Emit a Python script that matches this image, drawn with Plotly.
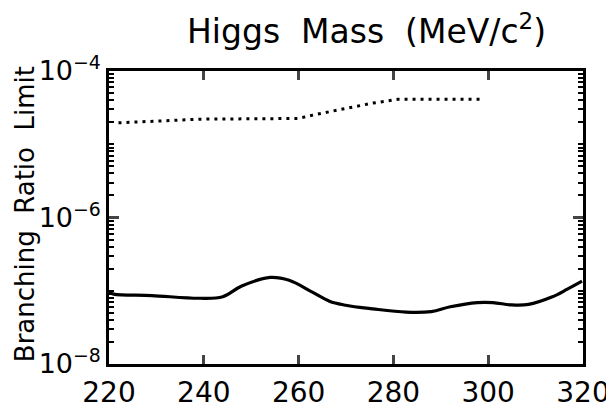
import plotly.graph_objects as go

# Solid curve (lower limit)
mass_solid = [220, 221, 229, 239, 244, 248, 254, 258, 263, 266.5, 269.6, 275.7, 282.7,
              288, 292, 297.7, 301, 305, 308.5, 313.4, 316.7, 319.8]
limit_solid = [9.6e-8, 9.0e-8, 8.6e-8, 7.9e-8, 8.3e-8, 1.16e-7, 1.52e-7, 1.39e-7, 9.5e-8,
               7.2e-8, 6.4e-8, 5.65e-8, 5.1e-8, 5.2e-8, 6.05e-8, 6.9e-8, 6.9e-8, 6.4e-8,
               6.5e-8, 8.2e-8, 1.05e-7, 1.35e-7]

# Dotted curve (upper limit)
mass_dot = [222, 239, 260, 263, 269.6, 275.7, 281, 290, 299]
limit_dot = [1.96e-5, 2.2e-5, 2.25e-5, 2.5e-5, 3.05e-5, 3.65e-5, 4.1e-5, 4.1e-5, 4.1e-5]

x_ticks = [220, 240, 260, 280, 300, 320]
x_ticktext = ["220", "240", "260", "280", "300", "320"]
y_ticks = [1e-8, 1e-6, 1e-4]
y_ticktext = ["10<sup>−8</sup>", "10<sup>−6</sup>", "10<sup>−4</sup>"]

title_text = "Higgs\u00a0\u00a0Mass\u00a0\u00a0(MeV/c<sup>2</sup>)"
ytitle_text = "Branching\u00a0\u00a0Ratio\u00a0\u00a0Limit"

FONT = "DejaVu Sans"

fig = go.Figure()
fig.add_trace(go.Scatter(x=mass_solid, y=limit_solid, mode="lines",
                         line=dict(color="black", width=3.2, shape="spline", smoothing=1.0),
                         showlegend=False))
fig.add_trace(go.Scatter(x=mass_dot, y=limit_dot, mode="lines",
                         line=dict(color="black", width=3, dash="3px,5px"),
                         showlegend=False))

minor_vals = [m * 10.0 ** e for e in range(-8, -4) for m in range(2, 10)] + [1e-7, 1e-5]

fig.update_layout(
    width=614, height=413,
    margin=dict(l=101, r=25, t=63, b=43),
    paper_bgcolor="white", plot_bgcolor="white",
    font=dict(family=FONT, color="black"),
    xaxis=dict(range=[220, 320], tickvals=x_ticks, ticktext=x_ticktext,
               ticks="inside", ticklen=9, tickwidth=2.5,
               showline=True, linewidth=2.5, linecolor="black", mirror="allticks",
               showgrid=False, zeroline=False, tickfont=dict(size=28, family=FONT),
               ticklabelstandoff=2, ticklabeloverflow="allow"),
    yaxis=dict(type="log", range=[-8, -4], tickvals=y_ticks, ticktext=y_ticktext,
               ticks="inside", ticklen=10, tickwidth=2.5,
               showline=True, linewidth=2.5, linecolor="black", mirror="allticks",
               showgrid=False, zeroline=False, tickfont=dict(size=27, family=FONT),
               minor=dict(tickvals=minor_vals, ticks="inside", ticklen=5, tickwidth=2,
                          tickcolor="black", showgrid=False)),
    annotations=[
        dict(text=title_text, xref="paper", yref="paper", x=0.543, y=1.14,
             xanchor="center", yanchor="middle", showarrow=False,
             font=dict(size=33, family=FONT)),
        dict(text=ytitle_text, xref="paper", yref="paper", x=-0.178, y=0.51,
             xanchor="center", yanchor="middle", showarrow=False, textangle=-90,
             font=dict(size=26, family=FONT)),
    ],
)

fig.write_html("out.html")
